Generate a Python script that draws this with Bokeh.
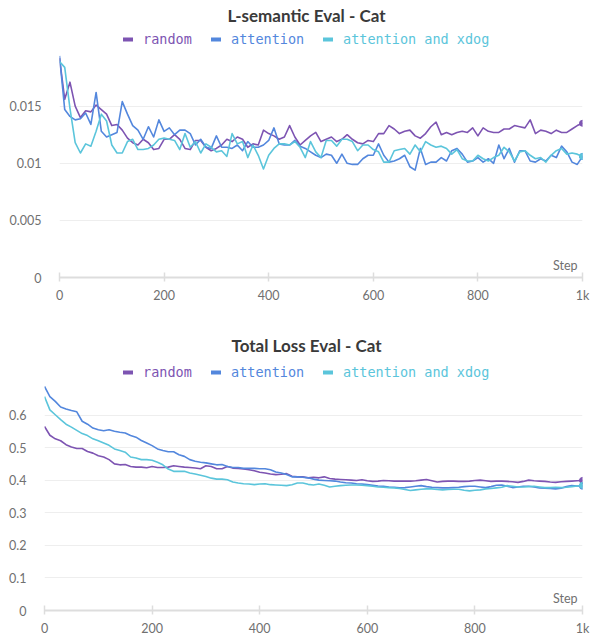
from bokeh.plotting import figure
from bokeh.models import (Range1d, FixedTicker, NumeralTickFormatter, Legend, LegendItem,
                          Label, ColumnDataSource)
from bokeh.layouts import column
from bokeh.embed import file_html
from bokeh.resources import INLINE

# ---------------- data ----------------
steps = list(range(0, 1001, 10))
series_names = ["random", "attention", "attention and xdog"]
series_colors = ["#7D54B2", "#5387DD", "#5BC5DB"]

sem_random = [
    0.0192, 0.0156, 0.0171, 0.0150, 0.0140, 0.0146, 0.0145, 0.0151, 0.0147, 0.0143,
    0.0133, 0.0134, 0.0129, 0.0122, 0.0118, 0.0116, 0.0121, 0.0118, 0.0112, 0.0113,
    0.0121, 0.0121, 0.0125, 0.0121, 0.0113, 0.0112, 0.0120, 0.0120, 0.0114, 0.0111,
    0.0113, 0.0116, 0.0121, 0.0119, 0.0123, 0.0121, 0.0114, 0.0117, 0.0116, 0.0129,
    0.0126, 0.0124, 0.0121, 0.0123, 0.0133, 0.0123, 0.0116, 0.0120, 0.0124, 0.0127,
    0.0119, 0.0121, 0.0123, 0.0119, 0.0121, 0.0125, 0.0121, 0.0118, 0.0117, 0.0120,
    0.0119, 0.0126, 0.0126, 0.0133, 0.0130, 0.0126, 0.0128, 0.0129, 0.0124, 0.0122,
    0.0126, 0.0132, 0.0136, 0.0125, 0.0127, 0.0125, 0.0127, 0.0128, 0.0127, 0.0131,
    0.0124, 0.0131, 0.0128, 0.0127, 0.0127, 0.0130, 0.0130, 0.0133, 0.0132, 0.0131,
    0.0138, 0.0126, 0.0129, 0.0128, 0.0126, 0.0129, 0.0127, 0.0127, 0.0130, 0.0133,
    0.0135,
]
sem_attention = [
    0.0194, 0.0147, 0.0141, 0.0138, 0.0139, 0.0144, 0.0134, 0.0162, 0.0128, 0.0123,
    0.0125, 0.0127, 0.0154, 0.0143, 0.0133, 0.0129, 0.0121, 0.0132, 0.0123, 0.0138,
    0.0128, 0.0131, 0.0125, 0.0129, 0.0129, 0.0126, 0.0116, 0.0121, 0.0114, 0.0113,
    0.0124, 0.0114, 0.0114, 0.0113, 0.0116, 0.0111, 0.0119, 0.0114, 0.0114, 0.0116,
    0.0120, 0.0131, 0.0117, 0.0116, 0.0116, 0.0120, 0.0115, 0.0113, 0.0110, 0.0107,
    0.0105, 0.0108, 0.0107, 0.0100, 0.0108, 0.0100, 0.0099, 0.0099, 0.0104, 0.0107,
    0.0107, 0.0117, 0.0107, 0.0101, 0.0102, 0.0104, 0.0107, 0.0097, 0.0094, 0.0113,
    0.0099, 0.0101, 0.0101, 0.0105, 0.0102, 0.0111, 0.0113, 0.0108, 0.0101, 0.0102,
    0.0105, 0.0101, 0.0104, 0.0100, 0.0116, 0.0104, 0.0113, 0.0101, 0.0111, 0.0111,
    0.0102, 0.0101, 0.0104, 0.0102, 0.0107, 0.0105, 0.0115, 0.0110, 0.0101, 0.0099,
    0.0106,
]
sem_xdog = [
    0.0189, 0.0184, 0.0148, 0.0118, 0.0109, 0.0117, 0.0115, 0.0128, 0.0143, 0.0137,
    0.0116, 0.0109, 0.0109, 0.0119, 0.0121, 0.0112, 0.0112, 0.0113, 0.0116, 0.0121,
    0.0122, 0.0121, 0.0120, 0.0112, 0.0126, 0.0114, 0.0119, 0.0109, 0.0117, 0.0114,
    0.0110, 0.0111, 0.0106, 0.0126, 0.0117, 0.0119, 0.0105, 0.0116, 0.0107, 0.0095,
    0.0107, 0.0113, 0.0117, 0.0117, 0.0116, 0.0119, 0.0114, 0.0105, 0.0119, 0.0110,
    0.0105, 0.0120, 0.0120, 0.0115, 0.0121, 0.0121, 0.0119, 0.0111, 0.0116, 0.0116,
    0.0112, 0.0110, 0.0101, 0.0101, 0.0111, 0.0112, 0.0113, 0.0108, 0.0116, 0.0110,
    0.0119, 0.0116, 0.0114, 0.0115, 0.0113, 0.0108, 0.0112, 0.0104, 0.0102, 0.0102,
    0.0107, 0.0104, 0.0102, 0.0105, 0.0107, 0.0114, 0.0110, 0.0102, 0.0110, 0.0111,
    0.0107, 0.0104, 0.0105, 0.0101, 0.0107, 0.0111, 0.0113, 0.0108, 0.0109, 0.0108,
    0.0106,
]

tot_random = [
    0.566, 0.539, 0.528, 0.522, 0.510, 0.503, 0.498, 0.498, 0.489, 0.484,
    0.476, 0.472, 0.464, 0.451, 0.448, 0.449, 0.443, 0.441, 0.441, 0.439,
    0.443, 0.440, 0.440, 0.441, 0.445, 0.443, 0.441, 0.440, 0.438, 0.436,
    0.445, 0.443, 0.436, 0.436, 0.443, 0.438, 0.437, 0.435, 0.433, 0.430,
    0.425, 0.423, 0.420, 0.418, 0.419, 0.421, 0.413, 0.411, 0.411,
    0.408, 0.410, 0.408, 0.411, 0.406, 0.404, 0.403, 0.402, 0.401, 0.400,
    0.402, 0.399, 0.397, 0.398, 0.400, 0.399, 0.398, 0.398, 0.398, 0.398,
    0.399, 0.401, 0.403, 0.399, 0.395, 0.397, 0.398, 0.398, 0.397, 0.397,
    0.398, 0.400, 0.401, 0.399, 0.397, 0.398, 0.398, 0.397, 0.396, 0.394,
    0.397, 0.401, 0.399, 0.398, 0.397, 0.395, 0.394, 0.396, 0.397, 0.398,
    0.399, 0.400,
]
tot_attention = [
    0.689, 0.658, 0.643, 0.626, 0.620, 0.615, 0.611, 0.582, 0.573, 0.561,
    0.556, 0.553, 0.556, 0.551, 0.548, 0.546, 0.538, 0.533, 0.523, 0.515,
    0.507, 0.497, 0.492, 0.488, 0.488, 0.479, 0.474, 0.464, 0.459, 0.456,
    0.454, 0.451, 0.448, 0.449, 0.443, 0.440, 0.440, 0.437, 0.437, 0.437,
    0.436, 0.436, 0.433, 0.426, 0.423, 0.418, 0.411, 0.411, 0.410,
    0.408, 0.404, 0.401, 0.400, 0.399, 0.398, 0.395, 0.393, 0.392, 0.390,
    0.389, 0.387, 0.385, 0.383, 0.382, 0.380, 0.379, 0.377, 0.378, 0.380,
    0.382, 0.384, 0.381, 0.379, 0.378, 0.377, 0.377, 0.378, 0.379, 0.381,
    0.382, 0.382, 0.380, 0.378, 0.381, 0.385, 0.386, 0.382, 0.378, 0.380,
    0.382, 0.382, 0.380, 0.377, 0.376, 0.375, 0.374, 0.376, 0.381, 0.384,
    0.383, 0.382,
]
tot_xdog = [
    0.658, 0.617, 0.602, 0.587, 0.573, 0.564, 0.554, 0.544, 0.538, 0.528,
    0.522, 0.515, 0.508, 0.497, 0.492, 0.487, 0.472, 0.469, 0.464, 0.464,
    0.462, 0.456, 0.448, 0.435, 0.428, 0.428, 0.428, 0.423, 0.420, 0.416,
    0.412, 0.407, 0.404, 0.404, 0.402, 0.395, 0.392, 0.390, 0.389, 0.387,
    0.389, 0.390, 0.387, 0.386, 0.385, 0.384, 0.387, 0.392, 0.392,
    0.388, 0.386, 0.389, 0.385, 0.380, 0.382, 0.384, 0.385, 0.386, 0.386,
    0.385, 0.384, 0.382, 0.380, 0.379, 0.378, 0.377, 0.375, 0.372, 0.369,
    0.371, 0.373, 0.374, 0.374, 0.372, 0.371, 0.372, 0.373, 0.373, 0.370,
    0.368, 0.370, 0.371, 0.374, 0.375, 0.377, 0.379, 0.384, 0.382, 0.380,
    0.380, 0.381, 0.382, 0.380, 0.378, 0.378, 0.379, 0.378, 0.379, 0.381,
    0.383, 0.385,
]

x_ticks = [0, 200, 400, 600, 800, 1000]
sem_y_ticks = [0, 0.005, 0.01, 0.015]
tot_y_ticks = [0, 0.1, 0.2, 0.3, 0.4, 0.5, 0.6]

for s in (sem_random, sem_attention, sem_xdog, tot_random, tot_attention, tot_xdog):
    assert len(s) == len(steps), len(s)

TICK_FONT = "Lato"
LEG_FONT = "DejaVu Sans Mono"
NAN = float("nan")


def make_chart(title, series, y_ticks, y_fmt, y_end, bl, bt, bb, title_offset, title_standoff,
               legend_x, legend_y):
    p = figure(width=600, height=320, output_backend="svg", toolbar_location=None,
               x_range=Range1d(0, 1000), y_range=Range1d(0, y_end),
               min_border_left=bl, min_border_right=18, min_border_top=bt, min_border_bottom=bb,
               title=title)
    if hasattr(p, "frame_align"):
        p.frame_align = False
    p.outline_line_color = None
    p.background_fill_color = "white"
    p.border_fill_color = "white"
    p.title.align = "left"
    p.title.offset = title_offset
    if hasattr(p.title, "standoff"):
        p.title.standoff = title_standoff
    p.title.text_font = TICK_FONT
    p.title.text_font_size = "17px"
    p.title.text_font_style = "bold"
    p.title.text_color = "#3a3a3a"

    p.xgrid.grid_line_color = None
    p.ygrid.grid_line_color = "#eeeeee"
    p.ygrid.grid_line_width = 1
    p.ygrid.ticker = FixedTicker(ticks=y_ticks)

    xa = p.xaxis[0]
    xa.ticker = FixedTicker(ticks=x_ticks)
    xa.major_label_overrides = {1000: "1k"}
    xa.axis_line_color = "#dddddd"
    xa.axis_line_width = 2
    xa.major_tick_line_color = "#dddddd"
    xa.major_tick_line_width = 1.5
    xa.major_tick_in = 5
    xa.major_tick_out = 4
    xa.minor_tick_line_color = None
    xa.major_label_standoff = 6
    xa.major_label_text_font = TICK_FONT
    xa.major_label_text_font_size = "12.5px"
    xa.major_label_text_color = "#707070"

    ya = p.yaxis[0]
    ya.ticker = FixedTicker(ticks=y_ticks)
    ya.formatter = NumeralTickFormatter(format=y_fmt)
    ya.axis_line_color = None
    ya.major_tick_line_color = None
    ya.minor_tick_line_color = None
    ya.major_label_standoff = 12
    ya.major_label_text_font = TICK_FONT
    ya.major_label_text_font_size = "12.5px"
    ya.major_label_text_color = "#707070"

    for vals, name, col, lx in zip(series, series_names, series_colors, legend_x):
        src = ColumnDataSource(dict(x=steps, y=vals))
        p.line("x", "y", source=src, line_color=col, line_width=1.6, line_join="round")
        end = ColumnDataSource(dict(x=steps[-1:], y=vals[-1:]))
        p.scatter("x", "y", source=end, size=6, fill_color=col, line_color=col)
        # legend-only renderer (one undrawable point) so the key bar can be thicker
        key_src = ColumnDataSource(dict(x=[NAN], y=[NAN]))
        key = p.line("x", "y", source=key_src, line_color=col, line_width=4, line_cap="round")
        leg = Legend(items=[LegendItem(label=name, renderers=[key])],
                     location=(lx, legend_y), orientation="horizontal",
                     padding=0, margin=0, spacing=0,
                     border_line_color=None, background_fill_alpha=0,
                     glyph_width=10, glyph_height=14, label_height=14,
                     label_standoff=10,
                     label_text_font=LEG_FONT, label_text_font_size="13.5px",
                     label_text_color=col)
        p.add_layout(leg, "center")

    p.add_layout(Label(x=1000, y=0, text="Step", x_offset=-5, y_offset=5,
                       text_align="right", text_baseline="bottom",
                       text_font=TICK_FONT, text_font_size="12.5px", text_color="#707070"))
    return p


p1 = make_chart("L-semantic Eval - Cat", [sem_random, sem_attention, sem_xdog],
                sem_y_ticks, "0.[000]", 0.0218, 59, 24, 43, 168, 5,
                [64, 152, 264], 230)
p2 = make_chart("Total Loss Eval - Cat", [tot_random, tot_attention, tot_xdog],
                tot_y_ticks, "0.[0]", 0.775, 44, 38, 30, 187, 5,
                [79, 167, 279], 230)

layout = column(p1, p2, spacing=0)
with open("out.html", "w") as f:
    f.write(file_html(layout, INLINE))
